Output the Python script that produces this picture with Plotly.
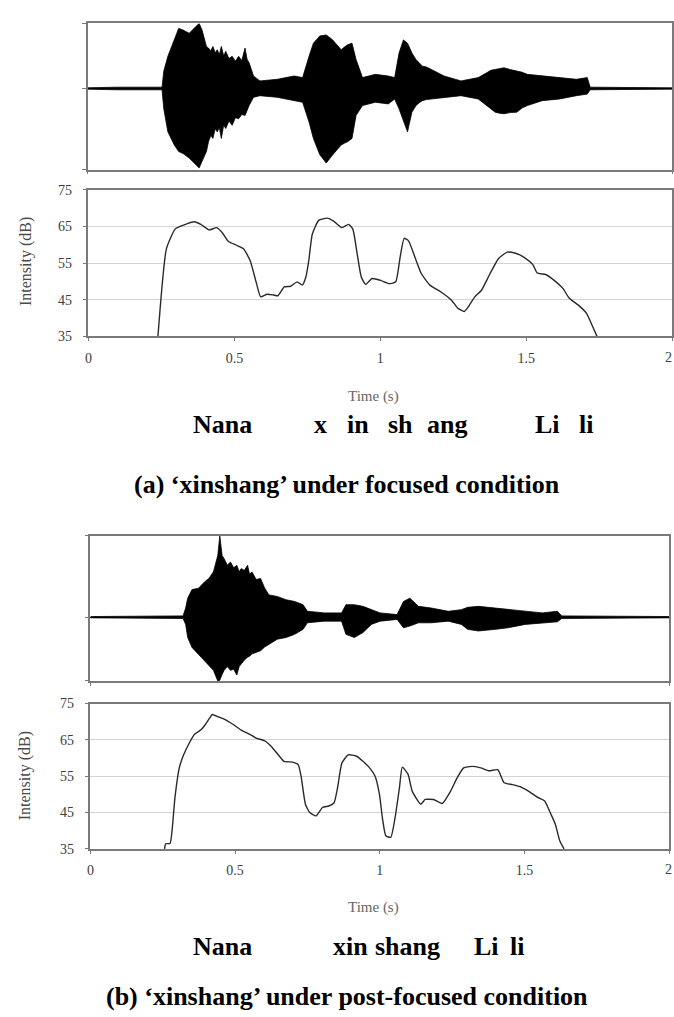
import plotly.graph_objects as go

W, H = 674, 1017

# ---------------- data ----------------
# (a) focused: waveform envelope (time s, upper, lower amplitude)
wave_a_t = [0.0, 0.10, 0.255, 0.261, 0.275, 0.297, 0.312, 0.327, 0.348, 0.370, 0.382, 0.392,
            0.407, 0.414, 0.422, 0.429, 0.437, 0.444, 0.451, 0.458, 0.466, 0.473, 0.484, 0.495,
            0.506, 0.517, 0.528, 0.539, 0.546, 0.553, 0.568, 0.590,
            0.649, 0.707, 0.736, 0.758, 0.773, 0.795, 0.817, 0.839, 0.855, 0.868, 0.880, 0.890,
            0.905, 0.919, 0.941, 0.985, 1.029, 1.051, 1.066, 1.081, 1.095, 1.110, 1.124, 1.135,
            1.146, 1.160, 1.176, 1.220, 1.278, 1.337, 1.366, 1.380, 1.395, 1.410, 1.425, 1.447,
            1.469, 1.487, 1.505, 1.556, 1.615, 1.673, 1.710, 1.720, 2.0]
wave_a_up = [0.01, 0.02, 0.02, 0.268, 0.495, 0.747, 0.924, 0.899, 0.848, 0.949, 1.0, 0.899,
             0.646, 0.621, 0.58, 0.646, 0.55, 0.596, 0.52, 0.646, 0.50, 0.571, 0.46, 0.495,
             0.42, 0.495, 0.43, 0.621, 0.45, 0.394, 0.192, 0.116,
             0.141, 0.192, 0.167, 0.495, 0.697, 0.808, 0.823, 0.747, 0.66, 0.596, 0.64, 0.672,
             0.697, 0.444, 0.167, 0.217, 0.192, 0.167, 0.545, 0.747, 0.697, 0.545, 0.444, 0.40,
             0.343, 0.33, 0.293, 0.192, 0.116, 0.167, 0.242, 0.28, 0.293, 0.30, 0.318, 0.29,
             0.268, 0.25, 0.217, 0.192, 0.167, 0.141, 0.167, 0.02, 0.01]
wave_a_lo = [-0.01, -0.02, -0.02, -0.313, -0.667, -0.869, -0.970, -1.0, -1.071, -1.172, -1.222, -1.121,
             -0.970, -0.818, -0.72, -0.768, -0.62, -0.667, -0.60, -0.768, -0.56, -0.616, -0.50, -0.566,
             -0.45, -0.465, -0.40, -0.414, -0.33, -0.263, -0.136, -0.111,
             -0.136, -0.187, -0.212, -0.515, -0.768, -1.020, -1.146, -1.020, -0.93, -0.869, -0.84, -0.818,
             -0.768, -0.414, -0.263, -0.212, -0.237, -0.162, -0.313, -0.515, -0.667, -0.364, -0.263, -0.22,
             -0.187, -0.17, -0.162, -0.136, -0.111, -0.162, -0.263, -0.32, -0.364, -0.38, -0.389, -0.37,
             -0.364, -0.30, -0.263, -0.187, -0.162, -0.111, -0.086, -0.02, -0.01]

# (a) intensity contour
int_a_t = [0.238, 0.267, 0.297, 0.326, 0.363, 0.385, 0.414, 0.439, 0.458, 0.480, 0.510, 0.532,
           0.554, 0.576, 0.590, 0.612, 0.634, 0.649, 0.671, 0.693, 0.715, 0.733, 0.745, 0.755,
           0.767, 0.789, 0.818, 0.840, 0.869, 0.891, 0.906, 0.921, 0.935, 0.950, 0.972, 1.001,
           1.031, 1.053, 1.068, 1.082, 1.097, 1.119, 1.141, 1.170, 1.207, 1.244, 1.266, 1.288,
           1.302, 1.324, 1.347, 1.376, 1.405, 1.435, 1.464, 1.493, 1.523, 1.538, 1.567, 1.596,
           1.626, 1.648, 1.678, 1.707, 1.728, 1.743]
int_a_db = [35.0, 58.9, 64.3, 65.4, 66.3, 65.6, 64.1, 64.7, 63.4, 60.9, 59.8, 58.9,
            55.7, 49.4, 45.8, 46.5, 46.3, 46.1, 48.5, 48.7, 49.9, 49.0, 51.2, 55.7,
            62.9, 66.7, 67.3, 66.5, 64.7, 65.6, 64.3, 57.5, 51.2, 49.2, 50.8, 50.3,
            49.4, 49.9, 56.6, 61.8, 61.1, 56.6, 52.1, 49.0, 47.2, 44.9, 42.7, 41.8,
            43.1, 45.8, 47.6, 52.1, 56.2, 58.0, 57.7, 56.6, 54.6, 52.3, 51.9, 50.3,
            48.1, 45.4, 43.6, 41.3, 37.7, 35.0]

# (b) post-focused: waveform envelope
wave_b_t = [0.0, 0.32, 0.329, 0.336, 0.351, 0.373, 0.395, 0.410, 0.425, 0.440, 0.447, 0.455,
            0.462, 0.473, 0.484, 0.495, 0.506, 0.514, 0.521, 0.532, 0.543, 0.550, 0.558, 0.573,
            0.588, 0.602, 0.617, 0.646, 0.676, 0.706, 0.735, 0.750, 0.809,
            0.868, 0.883, 0.912, 0.942, 0.971, 1.001, 1.060, 1.082, 1.104, 1.134, 1.178, 1.237,
            1.282, 1.304, 1.341, 1.400, 1.444, 1.503, 1.562, 1.614, 1.629, 2.0]
wave_b_up = [0.01, 0.02, 0.141, 0.293, 0.424, 0.444, 0.545, 0.60, 0.697, 0.949, 1.253, 0.95,
             0.899, 0.80, 0.848, 0.76, 0.798, 0.70, 0.747, 0.72, 0.798, 0.66, 0.697, 0.58,
             0.596, 0.45, 0.343, 0.318, 0.268, 0.242, 0.192, 0.091, 0.066,
             0.066, 0.192, 0.192, 0.167, 0.116, 0.066, 0.040, 0.242, 0.293, 0.167, 0.141, 0.091,
             0.116, 0.152, 0.167, 0.141, 0.116, 0.091, 0.066, 0.091, 0.02, 0.01]
wave_b_lo = [-0.01, -0.02, -0.111, -0.313, -0.465, -0.566, -0.667, -0.74, -0.818, -0.98, -0.970, -0.88,
             -0.818, -0.76, -0.818, -0.80, -0.889, -0.76, -0.717, -0.66, -0.616, -0.60, -0.566, -0.54,
             -0.515, -0.46, -0.414, -0.338, -0.313, -0.263, -0.187, -0.086, -0.061,
             -0.061, -0.263, -0.313, -0.237, -0.111, -0.061, -0.035, -0.162, -0.136, -0.086, -0.086, -0.061,
             -0.111, -0.187, -0.212, -0.187, -0.162, -0.111, -0.086, -0.071, -0.02, -0.01]

# (b) intensity contour
int_b_t = [0.256, 0.260, 0.275, 0.282, 0.292, 0.307, 0.322, 0.344, 0.359, 0.381, 0.396, 0.411,
           0.421, 0.440, 0.462, 0.492, 0.521, 0.551, 0.573, 0.603, 0.625, 0.647, 0.669, 0.699,
           0.718, 0.728, 0.743, 0.758, 0.780, 0.802, 0.824, 0.842, 0.854, 0.869, 0.891, 0.920,
           0.942, 0.965, 0.984, 0.999, 1.009, 1.021, 1.038, 1.053, 1.068, 1.078, 1.098, 1.112,
           1.142, 1.157, 1.186, 1.216, 1.245, 1.267, 1.290, 1.319, 1.349, 1.378, 1.408, 1.430,
           1.459, 1.489, 1.518, 1.548, 1.570, 1.592, 1.607, 1.622, 1.637]
int_b_db = [35.0, 36.4, 36.5, 40.0, 49.1, 57.3, 60.9, 64.5, 66.5, 67.7, 69.1, 70.9,
            72.0, 71.4, 70.7, 69.3, 67.7, 66.5, 65.5, 64.7, 63.2, 61.1, 59.1, 58.9,
            58.2, 55.0, 47.3, 45.0, 44.1, 46.4, 46.8, 47.7, 51.8, 58.6, 60.9, 60.5,
            59.1, 57.3, 55.0, 50.0, 43.6, 38.6, 38.2, 43.6, 51.8, 57.5, 55.5, 50.9,
            47.3, 48.6, 48.6, 47.5, 50.9, 54.5, 57.3, 57.7, 57.3, 56.5, 56.8, 53.2,
            52.7, 52.0, 50.7, 49.1, 48.2, 44.5, 41.8, 37.3, 35.0]

x_tickvals = [0, 0.5, 1, 1.5, 2]
x_ticktext = ["0", "0.5", "1", "1.5", "2"]
y_tickvals = [35, 45, 55, 65, 75]
y_ticktext = ["35", "45", "55", "65", "75"]
y_title = "Intensity (dB)"
x_title = "Time (s)"

words_a = ["Nana", "x", "in", "sh", "ang", "Li", "li"]
words_b = ["Nana", "xin", "shang", "Li", "li"]
caption_a = "(a) \u2018xinshang\u2019 under focused condition"
caption_b = "(b) \u2018xinshang\u2019 under post-focused condition"

# ---------------- layout helpers ----------------
def px(x):
    return x / W

def py(y):
    return 1 - y / H

FONT = "Liberation Serif"
LINE = "#7a7a7a"
TICKC = "#3c3c3c"

fig = go.Figure()

def add_wave(t, up, lo, xa, ya):
    fig.add_trace(go.Scatter(x=t, y=lo, mode="lines", line=dict(color="black", width=0.8),
                             xaxis=xa, yaxis=ya, showlegend=False, hoverinfo="skip"))
    fig.add_trace(go.Scatter(x=t, y=up, mode="lines", line=dict(color="black", width=0.8),
                             fill="tonexty", fillcolor="black",
                             xaxis=xa, yaxis=ya, showlegend=False, hoverinfo="skip"))

def add_int(t, db, xa, ya):
    fig.add_trace(go.Scatter(x=t, y=db, mode="lines",
                             line=dict(color="#2a2a2a", width=1.4, shape="spline", smoothing=0.5),
                             xaxis=xa, yaxis=ya, showlegend=False, hoverinfo="skip",
                             cliponaxis=True))

add_wave(wave_a_t, wave_a_up, wave_a_lo, "x", "y")
add_int(int_a_t, int_a_db, "x2", "y2")
add_wave(wave_b_t, wave_b_up, wave_b_lo, "x3", "y3")
add_int(int_b_t, int_b_db, "x4", "y4")

def wave_axes(xd, yd, yr):
    xa = dict(domain=xd, range=[0, 2], showline=True, mirror=True, linecolor=LINE, linewidth=1.5,
              ticks="outside", ticklen=3, tickcolor=LINE, tickvals=[0, 2], showticklabels=False,
              showgrid=False, zeroline=False, fixedrange=True)
    ya = dict(domain=yd, range=yr, showline=True, mirror=True, linecolor=LINE, linewidth=1.5,
              ticks="outside", ticklen=4, tickcolor=LINE, tickvals=[yr[0], 0, yr[1]],
              showticklabels=False, showgrid=False, zeroline=True, zerolinecolor="black",
              zerolinewidth=1, fixedrange=True)
    return xa, ya

def int_axes(xd, yd):
    # last x tick label ("2") sits at the page edge; it is drawn as an annotation instead
    xa = dict(domain=xd, range=[0, 2], showline=True, mirror=True, linecolor=LINE, linewidth=1.5,
              ticks="outside", ticklen=3, tickcolor=LINE, tickvals=x_tickvals,
              ticktext=x_ticktext[:-1] + [""],
              tickfont=dict(family=FONT, size=14, color=TICKC), ticklabelstandoff=5,
              showgrid=False, zeroline=False, fixedrange=True)
    ya = dict(domain=yd, range=[35, 75], showline=True, mirror=True, linecolor=LINE, linewidth=1.5,
              ticks="outside", ticklen=4, tickcolor=LINE, tickvals=y_tickvals, ticktext=y_ticktext,
              tickfont=dict(family=FONT, size=14, color=TICKC), ticklabelstandoff=8,
              showgrid=True, gridcolor="#d4d4d4", gridwidth=1, zeroline=False, fixedrange=True)
    return xa, ya

xa1, ya1 = wave_axes([px(84), px(672)], [py(165), py(16.7)], [-1.247, 1.0])
xa2, ya2 = int_axes([px(85), px(672)], [py(334.3), py(185.7)])
xa3, ya3 = wave_axes([px(87), px(669)], [py(684), py(536.7)], [-0.98, 1.252])
xa4, ya4 = int_axes([px(87), px(669)], [py(854.5), py(707)])
xa1["anchor"] = "y"; ya1["anchor"] = "x"
xa2["anchor"] = "y2"; ya2["anchor"] = "x2"
xa3["anchor"] = "y3"; ya3["anchor"] = "x3"
xa4["anchor"] = "y4"; ya4["anchor"] = "x4"

annotations = []

def small(text, x, y, angle=0, size=13, color="#555", anchor="center"):
    annotations.append(dict(text=text, x=px(x), y=py(y), xref="paper", yref="paper",
                            showarrow=False, textangle=angle, xanchor=anchor, yanchor="middle",
                            font=dict(family=FONT, size=size, color=color)))

def big(text, x, y, anchor="left"):
    annotations.append(dict(text="<b>" + text + "</b>", x=px(x), y=py(y), xref="paper", yref="paper",
                            showarrow=False, xanchor=anchor, yanchor="middle",
                            font=dict(family=FONT, size=26, color="black")))

small(y_title, 22, 258, angle=-90, size=16, color="#4a4a4a")
small(y_title, 22, 780, angle=-90, size=16, color="#4a4a4a")
small(x_title, 372, 395, size=15, color="#666")
small(x_title, 372, 914, size=15, color="#666")
small(x_ticktext[-1], 674, 356, size=14, color=TICKC, anchor="right")
small(x_ticktext[-1], 674, 875, size=14, color=TICKC, anchor="right")

for w, x in zip(words_a, [188, 309.5, 342.6, 384, 423.5, 532, 576]):
    big(w, x, 424)
for w, x in zip(words_b, [188, 329, 371, 471, 507]):
    big(w, x, 954)
big(caption_a, 345, 485, anchor="center")
big(caption_b, 345, 1004, anchor="center")

fig.update_layout(
    width=W, height=H, margin=dict(l=0, r=0, t=0, b=0),
    paper_bgcolor="white", plot_bgcolor="white",
    xaxis=xa1, yaxis=ya1, xaxis2=xa2, yaxis2=ya2,
    xaxis3=xa3, yaxis3=ya3, xaxis4=xa4, yaxis4=ya4,
    annotations=annotations, showlegend=False,
)

fig.write_html("out.html", config={"displayModeBar": False},
               post_script="document.body.style.margin='0';document.body.style.overflow='hidden';")
